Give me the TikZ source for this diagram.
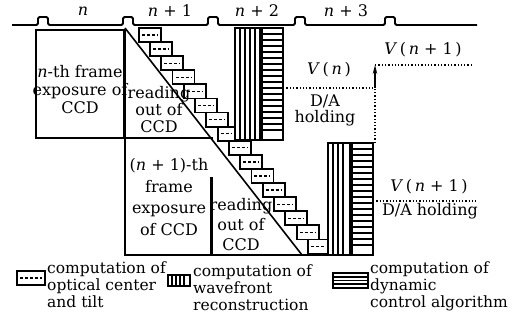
\documentclass[tikz,border=0pt]{standalone}
\usepackage{fontspec}
\setmainfont{DejaVu Serif}
\usetikzlibrary{arrows.meta}
\begin{document}
\begin{tikzpicture}[x=1pt,y=-1pt,
  lbl/.style={inner sep=0pt,align=center,font=\fontsize{16}{18}\selectfont},
  leg/.style={inner sep=0pt,align=left,anchor=west,font=\fontsize{15.5}{17}\selectfont},
  frame/.style={line width=2pt},
  blk/.style={draw,line width=1.8pt,fill=white},
  hatch/.style={line width=1.6pt},
  dots/.style={dotted,line width=1.3pt},
  tick/.style={line width=2.8pt}]
\useasboundingbox (0,0) rectangle (527,320);
% timeline
\draw[line width=1.8pt,rounded corners=1.5pt] (12,25) -- (38,25) -- (38,17) -- (48,17) -- (48,25)
  -- (123,25) -- (123,17) -- (133,17) -- (133,25) -- (208,25) -- (208,17) -- (218,17) -- (218,25)
  -- (295,25) -- (295,17) -- (305,17) -- (305,25) -- (385,25) -- (385,17) -- (395,17) -- (395,25) -- (477,25);
\node[lbl] (t0) at (83,11) {\textit{n}};
\node[lbl] (t1) at (170,11) {\textit{n} + 1};
\node[lbl] (t2) at (257,11) {\textit{n} + 2};
\node[lbl] (t3) at (346,11) {\textit{n} + 3};
% upper exposure box
\draw[frame] (36,30) rectangle (124,138);
\draw[line width=3pt] (124,30) -- (124,138);
\draw[frame] (124,138) -- (213,138);
% diagonal
\draw[line width=1.6pt] (125,28) -- (302,255);
% lower exposure box and reading
\draw[frame] (125,138) -- (125,255) -- (373,255);
\draw[line width=3pt] (211,177) -- (211,255);
% staircase
\foreach \i in {0,...,15} {
  \pgfmathsetmacro\yt{28+14.1*\i}
  \pgfmathsetmacro\yb{\yt+14.1}
  \pgfmathsetmacro\ym{\yt+7.05}
  \pgfmathsetmacro\xl{137+0.8*(\yb-40)}
  \pgfmathsetmacro\lim{ifthenelse(\i<8,235,328)}
  \pgfmathsetmacro\xr{min(\xl+22,\lim)}
  \draw[blk] (\xl,\yt) rectangle (\xr,\yb);
  \draw[dash pattern=on 3pt off 2pt,line width=1.3pt] (\xl+3,\ym) -- (\xr-3,\ym);
}
% upper hatched columns
\draw[hatch] (235,28) rectangle (260,140);
\foreach \x in {240,245,250,255} \draw[hatch] (\x,28) -- (\x,140);
\draw[hatch] (262,28) rectangle (283,140);
\foreach \y in {34,40,...,134} \draw[line width=2.2pt] (262,\y) -- (283,\y);
% lower hatched columns
\draw[hatch] (328,143) rectangle (350,255);
\foreach \x in {333,338,343} \draw[hatch] (\x,143) -- (\x,255);
\draw[hatch] (352,143) rectangle (373,255);
\foreach \y in {149,155,...,249} \draw[line width=2.2pt] (352,\y) -- (373,\y);
% D/A upper
\coordinate (a1) at (283,88);
\coordinate (a2) at (375,88);
\coordinate (a3) at (375,65);
\coordinate (a4) at (472,65);
\coordinate (a5) at (375,143);
\draw[dots] (a1) -- (a2);
\draw[dots] (a5) -- (a2);
\draw[line width=1.3pt,-{Stealth[length=9pt,width=4.5pt]}] (a2) -- (a3);
\draw[dots] (a3) -- (a4);
\draw[tick] (283,85) -- (283,98);
% D/A lower
\coordinate (b1) at (373,201);
\coordinate (b2) at (476,201);
\draw[dots] (b1) -- (b2);
\draw[tick] (373,197) -- (373,211);
% texts
\node[lbl] (e1) at (80,90) {\textit{n}-th frame\\exposure of\\CCD};
\node[lbl,font=\fontsize{16}{17}\selectfont] (r1) at (159,110) {reading\\out of\\CCD};
\node[lbl,font=\fontsize{16}{21.5}\selectfont] (e2) at (169,197) {(\textit{n} + 1)-th\\frame\\exposure\\of CCD};
\node[lbl,font=\fontsize{16}{20}\selectfont] (r2) at (241,225) {reading\\out of\\CCD};
\node[lbl] (vn) at (329,70) {\textit{V}\,(\,\textit{n}\,)};
\node[lbl,font=\fontsize{16}{16}\selectfont] (da1) at (325,110) {D/A\\holding};
\node[lbl] (vn1) at (423,50) {\textit{V}\,(\,\textit{n} + 1\,)};
\node[lbl] (vn2) at (429,187) {\textit{V}\,(\,\textit{n} + 1\,)};
\node[lbl] (da2) at (430,211) {D/A holding};
% legend
\draw[line width=1.8pt] (17,271) rectangle (45,285);
\draw[dash pattern=on 3pt off 2pt,line width=1.3pt] (20,278) -- (42,278);
\node[leg] (l1) at (47,285) {computation of\\optical center\\and tilt};
\draw[hatch] (168,275) rectangle (190,286);
\foreach \x in {172,176,180,184} \draw[hatch] (\x,275) -- (\x,286);
\node[leg] (l2) at (193,288) {computation of\\wavefront\\reconstruction};
\draw[hatch] (333,273) rectangle (368,288);
\foreach \y in {277,280.5,284} \draw[line width=1.5pt] (333,\y) -- (368,\y);
\node[leg] (l3) at (370,286) {computation of\\dynamic\\control algorithm};
\end{tikzpicture}
\end{document}
